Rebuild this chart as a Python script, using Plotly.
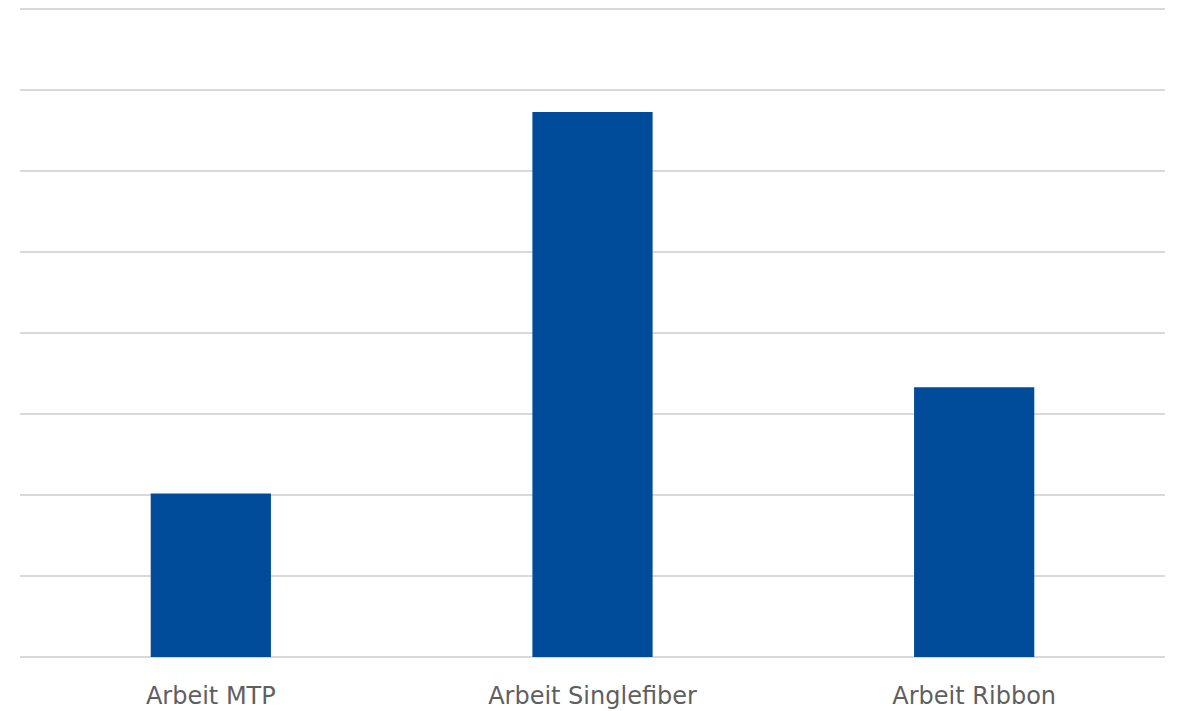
import plotly.graph_objects as go

categories = ["Arbeit MTP", "Arbeit Singlefiber", "Arbeit Ribbon"]
values = [2.02, 6.73, 3.33]

fig = go.Figure(
    go.Bar(
        x=categories,
        y=values,
        marker=dict(color="#004C9B", line=dict(width=0)),
        hoverinfo="x+y",
    )
)

fig.update_layout(
    width=1178,
    height=711,
    margin=dict(l=20, r=13, t=5, b=54, autoexpand=False),
    paper_bgcolor="white",
    plot_bgcolor="white",
    bargap=0.685,
    showlegend=False,
    font=dict(family="DejaVu Sans", color="#5f5f5f"),
)

fig.update_yaxes(
    range=[0, 8.05],
    dtick=1,
    showticklabels=False,
    showgrid=True,
    gridcolor="#d9d9d9",
    gridwidth=2,
    zeroline=True,
    zerolinecolor="#d9d9d9",
    zerolinewidth=2,
    showline=False,
    fixedrange=True,
    automargin=False,
)

fig.update_xaxes(
    showline=False,
    showgrid=False,
    ticks="",
    tickfont=dict(size=24, color="#5f5f5f"),
    ticklabelstandoff=22,
    automargin=False,
    fixedrange=True,
)

fig.write_html("out.html")
